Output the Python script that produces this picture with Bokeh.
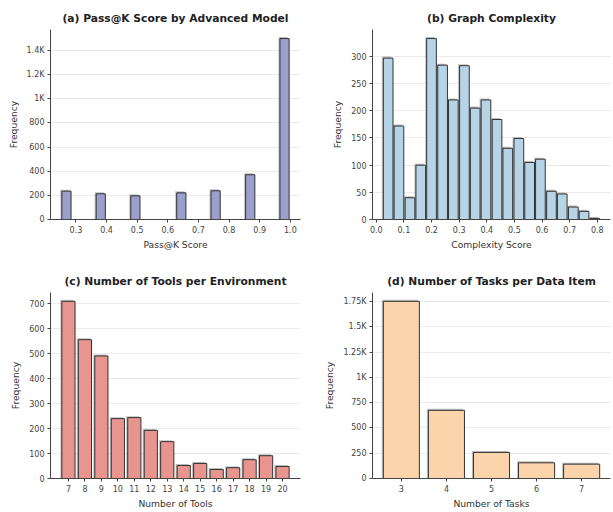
from bokeh.plotting import figure
from bokeh.layouts import column, row
from bokeh.models import Range1d, FixedTicker, ColumnDataSource
from bokeh.embed import file_html
from bokeh.resources import INLINE

# ---------------- data ----------------
# (a) Pass@K score histogram (bin centres, counts)
passk_centers = [0.269, 0.381, 0.494, 0.644, 0.756, 0.869, 0.981]
passk_counts = [235, 213, 196, 221, 238, 371, 1500]
passk_xticks = [0.3, 0.4, 0.5, 0.6, 0.7, 0.8, 0.9, 1.0]
passk_xlabels = ["0.3", "0.4", "0.5", "0.6", "0.7", "0.8", "0.9", "1.0"]
passk_yticks = [0, 200, 400, 600, 800, 1000, 1200, 1400]
passk_ylabels = ["0", "200", "400", "600", "800", "1K", "1.2K", "1.4K"]

# (b) Graph complexity histogram
complexity_centers = [0.043, 0.082, 0.122, 0.161, 0.200, 0.240, 0.279, 0.319,
                      0.358, 0.397, 0.437, 0.476, 0.516, 0.555, 0.594, 0.634,
                      0.673, 0.713, 0.752, 0.791]
complexity_counts = [297, 172, 40, 100, 333, 284, 220, 283, 205, 220,
                     184, 131, 149, 105, 111, 52, 47, 23, 15, 2]
complexity_xticks = [0.0, 0.1, 0.2, 0.3, 0.4, 0.5, 0.6, 0.7, 0.8]
complexity_xlabels = ["0.0", "0.1", "0.2", "0.3", "0.4", "0.5", "0.6", "0.7", "0.8"]
complexity_yticks = [0, 50, 100, 150, 200, 250, 300]
complexity_ylabels = ["0", "50", "100", "150", "200", "250", "300"]

# (c) Number of tools per environment
tools = [7, 8, 9, 10, 11, 12, 13, 14, 15, 16, 17, 18, 19, 20]
tools_counts = [707, 554, 489, 239, 243, 192, 147, 52, 60, 36, 43, 75, 91, 48]
tools_yticks = [0, 100, 200, 300, 400, 500, 600, 700]
tools_ylabels = ["0", "100", "200", "300", "400", "500", "600", "700"]

# (d) Number of tasks per data item
tasks = [3, 4, 5, 6, 7]
tasks_counts = [1752, 674, 258, 155, 142]
tasks_yticks = [0, 250, 500, 750, 1000, 1250, 1500, 1750]
tasks_ylabels = ["0", "250", "500", "750", "1K", "1.25K", "1.5K", "1.75K"]

FONT = "DejaVu Sans"


def make_panel(title, xlabel, xs, counts, bar_w, color, xticks, xlabels,
               yticks, ylabels, width, height, mb_left, mb_right, mb_top, mb_bottom):
    lo = min(xs) - bar_w / 2
    hi = max(xs) + bar_w / 2
    pad = (hi - lo) * 0.05
    x0, x1 = lo - pad, hi + pad
    y1 = max(counts) * 1.05
    p = figure(width=width, height=height, x_range=Range1d(x0, x1),
               y_range=Range1d(0, y1), output_backend="svg",
               toolbar_location=None, min_border_left=mb_left,
               min_border_right=mb_right, min_border_top=mb_top,
               min_border_bottom=mb_bottom)
    p.outline_line_color = None
    p.background_fill_color = "white"
    p.border_fill_color = "white"

    frame_w = width - mb_left - mb_right
    frame_h = height - mb_top - mb_bottom
    dxp = (x1 - x0) / frame_w
    dyp = y1 / frame_h

    # subtle shadow behind each bar
    sh = ColumnDataSource(dict(
        left=[x - bar_w / 2 - 1.5 * dxp for x in xs],
        right=[x + bar_w / 2 - 1.5 * dxp for x in xs],
        top=[c + 1.5 * dyp for c in counts],
        bottom=[0 for _ in xs]))
    p.quad(left="left", right="right", top="top", bottom="bottom", source=sh,
           fill_color="#8a8a8a", fill_alpha=0.55, line_color=None)

    src = ColumnDataSource(dict(
        left=[x - bar_w / 2 for x in xs],
        right=[x + bar_w / 2 for x in xs],
        top=counts,
        bottom=[0 for _ in xs]))
    p.quad(left="left", right="right", top="top", bottom="bottom", source=src,
           fill_color=color, line_color="#333333", line_width=1)

    p.title.text = title
    p.title.align = "center"
    p.title.text_font = FONT
    p.title.text_font_size = "10.7px"
    p.title.text_font_style = "bold"
    p.title.text_color = "#222222"
    p.title.standoff = 10

    p.xaxis.ticker = FixedTicker(ticks=xticks)
    p.xaxis.major_label_overrides = {t: l for t, l in zip(xticks, xlabels)}
    p.yaxis.ticker = FixedTicker(ticks=yticks)
    p.yaxis.major_label_overrides = {t: l for t, l in zip(yticks, ylabels)}
    p.xaxis.axis_label = xlabel
    p.yaxis.axis_label = "Frequency"

    for ax in (p.xaxis, p.yaxis):
        ax.axis_line_color = "#444444"
        ax.axis_line_width = 1
        ax.major_tick_line_color = "#444444"
        ax.major_tick_out = 3
        ax.major_tick_in = 0
        ax.minor_tick_line_color = None
        ax.major_label_text_font = FONT
        ax.major_label_text_font_size = "8px"
        ax.major_label_text_color = "#444444"
        ax.major_label_standoff = 3
        ax.axis_label_text_font = FONT
        ax.axis_label_text_font_size = "9.2px"
        ax.axis_label_text_font_style = "normal"
        ax.axis_label_text_color = "#333333"
    p.xaxis.axis_label_standoff = 3
    p.yaxis.axis_label_standoff = 5

    p.xgrid.grid_line_color = None
    p.ygrid.grid_line_color = "#ebebeb"
    p.ygrid.grid_line_width = 1
    return p


pa = make_panel("(a) Pass@K Score by Advanced Model", "Pass@K Score",
                passk_centers, passk_counts, 0.03, "#9b9fcc",
                passk_xticks, passk_xlabels, passk_yticks, passk_ylabels,
                320, 256, 50, 20, 29, 37)
pb = make_panel("(b) Graph Complexity", "Complexity Score",
                complexity_centers, complexity_counts, 0.035, "#b6d4e5",
                complexity_xticks, complexity_xlabels, complexity_yticks,
                complexity_ylabels, 292, 256, 52, 2, 29, 37)
pc = make_panel("(c) Number of Tools per Environment", "Number of Tools",
                tools, tools_counts, 0.8, "#e9958f",
                tools, [str(t) for t in tools], tools_yticks, tools_ylabels,
                320, 255, 50, 20, 36, 31)
pd_ = make_panel("(d) Number of Tasks per Data Item", "Number of Tasks",
                 tasks, tasks_counts, 0.8, "#fcd4ab",
                 tasks, [str(t) for t in tasks], tasks_yticks, tasks_ylabels,
                 292, 255, 52, 2, 36, 31)

layout = column(row(pa, pb), row(pc, pd_))

open("out.html", "w").write(file_html(layout, INLINE))
